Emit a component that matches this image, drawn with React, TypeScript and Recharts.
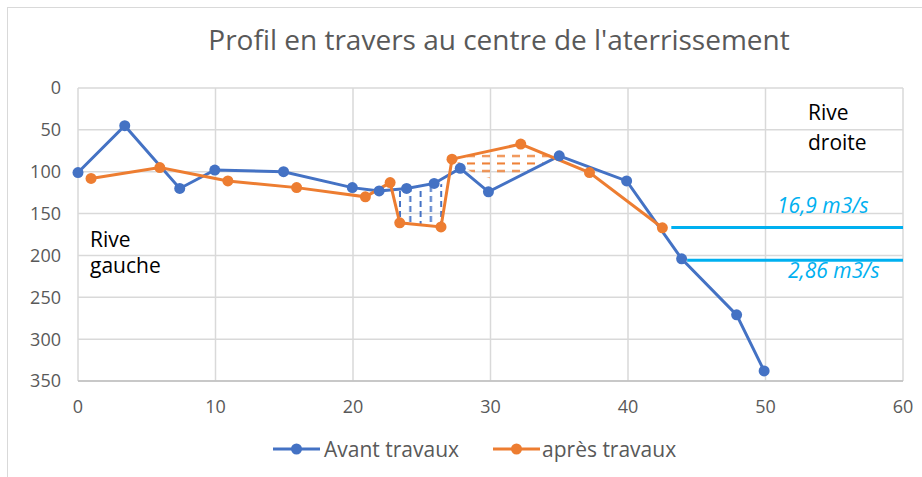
import {
    ComposedChart,
    Line,
    Area,
    XAxis,
    YAxis,
    CartesianGrid,
    ReferenceLine,
} from 'recharts';

// profil avant travaux (distance m, profondeur cm)
const avantX = [0, 3.4, 7.4, 9.95, 14.95, 19.95, 21.9, 23.9, 25.9, 27.8, 29.85, 35.0, 39.9, 43.9, 47.9, 49.9];
const avantY = [101, 45, 120, 98, 100, 119, 123, 120, 114, 96, 124, 81, 111, 204, 271, 338];

// profil après travaux
const apresX = [0.95, 5.95, 10.9, 15.9, 20.9, 22.7, 23.4, 26.4, 27.2, 32.2, 37.2, 42.5];
const apresY = [108, 95, 111, 119, 130, 113, 161, 166, 85, 67, 101, 167];

// zones hachurées (déblai / remblai)
const deblaiX = [22.9, 23.4, 26.4, 26.8];
const deblaiTop = [122, 121, 115, 113];
const deblaiBottom = [124, 161, 166, 125];

const remblaiX = [27.6, 28.6, 30.0, 32.5, 34.5];
const remblaiTop = [82, 80, 79, 78, 78];
const remblaiBottom = [90, 100, 108, 100, 84];

// niveaux d'eau
const niveauLabels = ['16,9 m3/s', '2,86 m3/s'];
const niveauY = [166.7, 205.7];
const niveauStart = [43.15, 44.3];

const xTicks = [0, 10, 20, 30, 40, 50, 60];
const yTicks = [0, 50, 100, 150, 200, 250, 300, 350];

const BLUE = '#4472C4';
const ORANGE = '#ED7D31';
const CYAN = '#00B0F0';
const FONT = '"Open Sans", sans-serif';

const avant = avantX.map((x, i) => ({ x, y: avantY[i] }));
const apres = apresX.map((x, i) => ({ x, y: apresY[i] }));
const deblai = deblaiX.map((x, i) => ({ x, range: [deblaiTop[i], deblaiBottom[i]] }));
const remblai = remblaiX.map((x, i) => ({ x, range: [remblaiTop[i], remblaiBottom[i]] }));

function LegendIcon({ color }: { color: string }) {
    return (
        <svg width={47} height={24}>
            <line x1={0} y1={12} x2={47} y2={12} stroke={color} strokeWidth={3} />
            <circle cx={23.5} cy={12} r={5.5} fill={color} />
        </svg>
    );
}

export default function App() {
    const tickStyle = { fontSize: 18, fill: '#595959', fontFamily: FONT };
    const annot = { position: 'absolute' as const, fontFamily: FONT, color: '#000', fontSize: 21, lineHeight: '26px', whiteSpace: 'nowrap' as const };
    const flowText = { position: 'absolute' as const, fontFamily: FONT, fontStyle: 'italic' as const, fontSize: 21, lineHeight: '24px', color: CYAN, whiteSpace: 'nowrap' as const };

    return (
        <div style={{ position: 'absolute', left: 0, top: 0, width: 922, height: 477, background: '#fff', overflow: 'hidden' }}>
            <div style={{ position: 'absolute', left: 7, top: 7, width: 940, height: 500, border: '1.5px solid #D9D9D9' }} />
            <ComposedChart
                width={922}
                height={477}
                margin={{ top: 88, right: 19, bottom: 66, left: 0 }}
            >
                <defs>
                    <pattern id="hatchBlue" patternUnits="userSpaceOnUse" x={8.6} width={20.6} height={10}>
                        <line x1={0} y1={1} x2={0} y2={7} stroke={BLUE} strokeWidth={2} />
                        <line x1={10.3} y1={6} x2={10.3} y2={10} stroke={BLUE} strokeWidth={2} />
                        <line x1={10.3} y1={0} x2={10.3} y2={2} stroke={BLUE} strokeWidth={2} />
                        <line x1={20.6} y1={1} x2={20.6} y2={7} stroke={BLUE} strokeWidth={2} />
                    </pattern>
                    <pattern id="hatchOrange" patternUnits="userSpaceOnUse" width={15} height={7.5}>
                        <line x1={2} y1={6} x2={10} y2={6} stroke={ORANGE} strokeWidth={2} />
                    </pattern>
                </defs>
                <CartesianGrid stroke="#D9D9D9" strokeWidth={1.5} />
                <XAxis
                    dataKey="x"
                    type="number"
                    domain={[0, 60]}
                    ticks={xTicks}
                    height={30}
                    tick={tickStyle}
                    tickLine={false}
                    tickSize={0}
                    tickMargin={19}
                    axisLine={{ stroke: '#BFBFBF', strokeWidth: 1.5 }}
                />
                <YAxis
                    type="number"
                    reversed
                    domain={[0, 350]}
                    ticks={yTicks}
                    width={78}
                    tick={tickStyle}
                    tickLine={false}
                    tickSize={0}
                    tickMargin={17}
                    axisLine={false}
                />
                <Area
                    data={deblai}
                    dataKey="range"
                    type="linear"
                    stroke="none"
                    fill="url(#hatchBlue)"
                    fillOpacity={1}
                    dot={false}
                    activeDot={false}
                    isAnimationActive={false}
                />
                <Area
                    data={remblai}
                    dataKey="range"
                    type="linear"
                    stroke="none"
                    fill="url(#hatchOrange)"
                    fillOpacity={1}
                    dot={false}
                    activeDot={false}
                    isAnimationActive={false}
                />
                {niveauY.map((y, i) => (
                    <ReferenceLine
                        key={niveauLabels[i]}
                        segment={[{ x: niveauStart[i], y }, { x: 60, y }]}
                        stroke={CYAN}
                        strokeWidth={3}
                        ifOverflow="visible"
                    />
                ))}
                <Line
                    data={avant}
                    dataKey="y"
                    type="linear"
                    stroke={BLUE}
                    strokeWidth={3}
                    dot={{ r: 5.5, fill: BLUE, stroke: 'none' }}
                    activeDot={false}
                    isAnimationActive={false}
                />
                <Line
                    data={apres}
                    dataKey="y"
                    type="linear"
                    stroke={ORANGE}
                    strokeWidth={3}
                    dot={{ r: 5.5, fill: ORANGE, stroke: 'none' }}
                    activeDot={false}
                    isAnimationActive={false}
                />
            </ComposedChart>

            <div style={{ position: 'absolute', left: 499, top: 21, transform: 'translateX(-50%)', whiteSpace: 'nowrap', fontFamily: FONT, fontSize: 28, lineHeight: '36px', color: '#595959' }}>
                Profil en travers au centre de l'aterrissement
            </div>

            <div style={{ ...annot, left: 90, top: 225.5 }}>Rive</div>
            <div style={{ ...annot, left: 90, top: 252 }}>gauche</div>
            <div style={{ ...annot, left: 808, top: 99 }}>Rive</div>
            <div style={{ ...annot, left: 808, top: 129 }}>droite</div>

            <div style={{ ...flowText, left: 777, top: 192.5 }}>{niveauLabels[0]}</div>
            <div style={{ ...flowText, left: 788, top: 258 }}>{niveauLabels[1]}</div>

            <div style={{ position: 'absolute', left: 273, top: 436.5, display: 'flex', alignItems: 'center', fontFamily: FONT, fontSize: 21, lineHeight: '24px', color: '#595959', whiteSpace: 'nowrap' }}>
                <LegendIcon color={BLUE} />
                <span style={{ marginLeft: 4 }}>Avant travaux</span>
                <span style={{ marginLeft: 34, display: 'flex', alignItems: 'center' }}>
                    <LegendIcon color={ORANGE} />
                    <span style={{ marginLeft: 2 }}>après travaux</span>
                </span>
            </div>
        </div>
    );
}
